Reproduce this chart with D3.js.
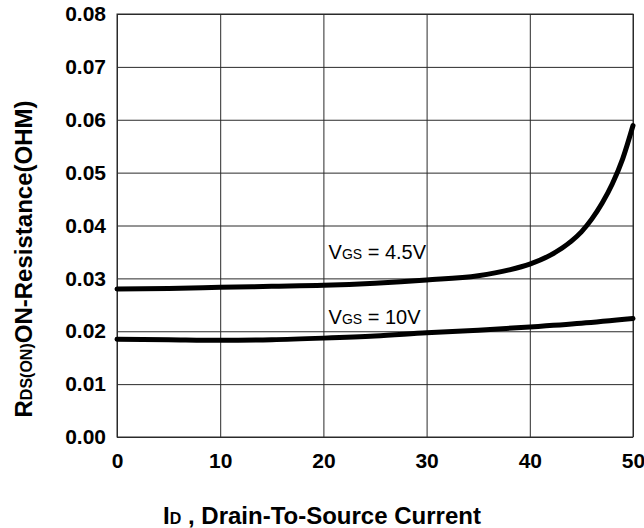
<!DOCTYPE html>
<html>
<head>
<meta charset="utf-8">
<script src="https://cdn.jsdelivr.net/npm/d3@7"></script>
<style>
  html, body { margin: 0; padding: 0; background: #fff; }
  svg { display: block; font-family: "Liberation Sans", Arial, sans-serif; }
</style>
</head>
<body>
<svg id="chart" width="644" height="528"></svg>
<script>
// ---- data ----
const xTicks = [0, 10, 20, 30, 40, 50];
const yTicks = [0, 0.01, 0.02, 0.03, 0.04, 0.05, 0.06, 0.07, 0.08];

const current45 = [0, 5, 10, 15, 20, 25, 30, 35, 38, 40, 42, 44, 45, 46, 47, 48, 49, 50];
const rds45     = [0.0280, 0.0281, 0.0283, 0.0285, 0.0287, 0.0291, 0.0297, 0.0305, 0.0316, 0.0327, 0.0344, 0.0370, 0.0388, 0.0412, 0.0442, 0.0479, 0.0526, 0.0589];

const current10 = [0, 5, 10, 15, 20, 25, 30, 35, 40, 45, 50];
const rds10     = [0.0185, 0.0184, 0.0183, 0.0184, 0.0187, 0.0191, 0.0197, 0.0202, 0.0208, 0.0215, 0.0224];

const labelMain = ["V", "V"];
const labelSub  = ["GS", "GS"];
const labelRest = [" = 4.5V", " = 10V"];
const labelX    = [20.5, 20.5];
const labelY    = [0.0336, 0.0214];

// ---- layout ----
const W = 644, H = 528;
const margin = { top: 14, right: 11, bottom: 91, left: 117 };
const iw = W - margin.left - margin.right;
const ih = H - margin.top - margin.bottom;

const svg = d3.select("#chart");
const g = svg.append("g").attr("transform", `translate(${margin.left},${margin.top})`);

const x = d3.scaleLinear().domain([0, 50]).range([0, iw]);
const y = d3.scaleLinear().domain([0, 0.08]).range([ih, 0]);

// grid + axes
const yAxis = d3.axisLeft(y).tickValues(yTicks).tickFormat(d3.format(".2f"))
  .tickSize(-iw).tickPadding(11);
const xAxis = d3.axisBottom(x).tickValues(xTicks).tickFormat(d3.format("d"))
  .tickSize(-ih).tickPadding(16);

const gy = g.append("g").call(yAxis);
const gx = g.append("g").attr("transform", `translate(0,${ih})`).call(xAxis);

[gx, gy].forEach(a => {
  a.select(".domain").remove();
  a.selectAll(".tick line").attr("stroke", "#2a2a2a").attr("stroke-width", 1);
  a.selectAll(".tick text")
    .attr("fill", "#000")
    .style("font-size", "21px")
    .style("font-weight", "bold")
    .style("font-family", "'Liberation Sans', Arial, sans-serif");
});

// frame
g.append("rect").attr("x", 0).attr("y", 0).attr("width", iw).attr("height", ih)
  .attr("fill", "none").attr("stroke", "#2a2a2a").attr("stroke-width", 1);

// curves
const line = d3.line().x(d => x(d[0])).y(d => y(d[1])).curve(d3.curveMonotoneX);
const s45 = current45.map((c, i) => [c, rds45[i]]);
const s10 = current10.map((c, i) => [c, rds10[i]]);
[s45, s10].forEach(s => {
  g.append("path").datum(s).attr("d", line)
    .attr("fill", "none").attr("stroke", "#000")
    .attr("stroke-width", 5).attr("stroke-linecap", "round");
});

// annotations
labelMain.forEach((m, i) => {
  const t = g.append("text")
    .attr("x", x(labelX[i])).attr("y", y(labelY[i]))
    .style("font-size", "20px").attr("fill", "#000");
  t.append("tspan").text(m);
  t.append("tspan").style("font-size", "14px").text(labelSub[i]);
  t.append("tspan").text(labelRest[i]);
});

// axis titles
const xt = svg.append("text")
  .attr("x", W / 2).attr("y", 524).attr("text-anchor", "middle")
  .style("font-size", "24px").style("font-weight", "bold");
xt.append("tspan").text("I");
xt.append("tspan").style("font-size", "16px").text("D");
xt.append("tspan").text(" , Drain-To-Source Current");

const yt = svg.append("text")
  .attr("transform", "translate(32,259) rotate(-90)")
  .attr("text-anchor", "middle")
  .style("font-size", "24px").style("font-weight", "bold");
yt.append("tspan").text("R");
yt.append("tspan").style("font-size", "16px").text("DS(ON)");
yt.append("tspan").text("ON-Resistance(OHM)");
</script>
</body>
</html>
